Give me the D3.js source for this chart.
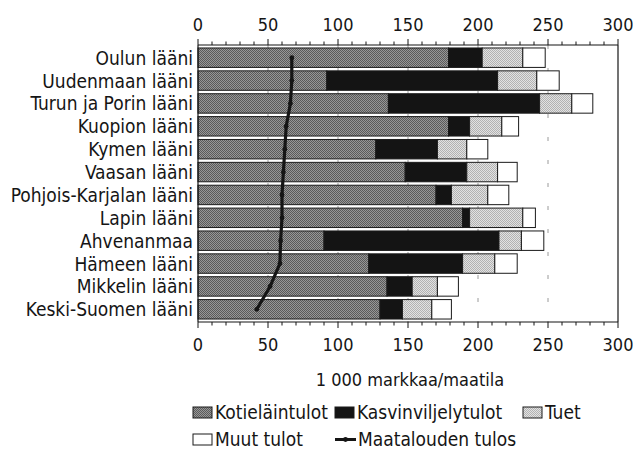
<!DOCTYPE html>
<html>
<head>
<meta charset="utf-8">
<script src="https://cdn.jsdelivr.net/npm/d3@7"></script>
<style>
  html, body { margin: 0; padding: 0; background: #fff; }
  svg { display: block; font-family: "DejaVu Sans Condensed", "Roboto", sans-serif; }
</style>
</head>
<body>
<svg id="chart" width="633" height="453"></svg>
<script>
// Läänit ylhäältä alas
const categories = [
  "Oulun lääni", "Uudenmaan lääni", "Turun ja Porin lääni", "Kuopion lääni",
  "Kymen lääni", "Vaasan lääni", "Pohjois-Karjalan lääni", "Lapin lääni",
  "Ahvenanmaa", "Hämeen lääni", "Mikkelin lääni", "Keski-Suomen lääni"
];
// Tulolajit, 1 000 mk/maatila
const kotielaintulot     = [179, 92, 136, 179, 127, 148, 170, 189, 90, 122, 135, 130];
const kasvinviljelytulot = [24, 122, 108, 15, 44, 44, 11, 5, 125, 67, 18, 16];
const tuet               = [29, 28, 23, 23, 21, 22, 26, 38, 16, 23, 18, 21];
const muutTulot          = [16, 16, 15, 12, 15, 14, 15, 9, 16, 16, 15, 14];
// Maatalouden tulos
const maataloudenTulos   = [67, 67, 66, 63, 62, 61, 60, 60, 59, 58.5, 51.5, 42];

const seriesNames = ["Kotieläintulot", "Kasvinviljelytulot", "Tuet", "Muut tulot"];
const lineName = "Maatalouden tulos";
const xTicks = [0, 50, 100, 150, 200, 250, 300];
const axisTitle = "1 000 markkaa/maatila";

const svg = d3.select("#chart");
const x = d3.scaleLinear().domain([0, 300]).range([198, 618]);
const y = d3.scaleBand().domain(categories).range([45, 322]).paddingInner(0.15).paddingOuter(0.13);
const ink = "#151515";

// Rasterikuviot
const defs = svg.append("defs");
function dotPattern(id, bg, dot, size) {
  const p = defs.append("pattern").attr("id", id).attr("patternUnits", "userSpaceOnUse")
    .attr("width", size).attr("height", size);
  p.append("rect").attr("width", size).attr("height", size).attr("fill", bg);
  p.append("rect").attr("width", size / 2).attr("height", size / 2).attr("fill", dot);
  p.append("rect").attr("x", size / 2).attr("y", size / 2).attr("width", size / 2).attr("height", size / 2).attr("fill", dot);
}
dotPattern("pKoti", "#979797", "#5a5a5a", 2);
dotPattern("pTuet", "#e2e2e2", "#b2b2b2", 2);

const fills = ["url(#pKoti)", "#141414", "url(#pTuet)", "#ffffff"];

// Katkoviivainen ruudukko
svg.append("g").selectAll("line").data(xTicks.filter(d => d > 0 && d < 300)).join("line")
  .attr("x1", d => x(d)).attr("x2", d => x(d)).attr("y1", 45).attr("y2", 322)
  .attr("stroke", "#9a9a9a").attr("stroke-width", 1).attr("stroke-dasharray", "4,19");

// Pinotut palkit
const rows = categories.map((c, i) => ({
  cat: c, vals: [kotielaintulot[i], kasvinviljelytulot[i], tuet[i], muutTulot[i]]
}));
const stack = d3.stack().keys([0, 1, 2, 3]).value((d, k) => d.vals[k]);
const stacked = stack(rows);

svg.append("g").selectAll("g").data(stacked).join("g")
  .attr("fill", (d, i) => fills[i])
  .selectAll("rect").data(d => d).join("rect")
  .attr("x", d => x(d[0]))
  .attr("y", d => y(d.data.cat))
  .attr("width", d => x(d[1]) - x(d[0]))
  .attr("height", y.bandwidth())
  .attr("stroke", "#1a1a1a").attr("stroke-width", 1);

// Kehys ja akselit
const axisG = svg.append("g").attr("stroke", ink).attr("stroke-width", 1.2);
axisG.append("line").attr("x1", x(0)).attr("x2", x(300)).attr("y1", 45).attr("y2", 45);
axisG.append("line").attr("x1", x(0)).attr("x2", x(300)).attr("y1", 322).attr("y2", 322);
axisG.append("line").attr("x1", x(0)).attr("x2", x(0)).attr("y1", 45).attr("y2", 322);
axisG.append("line").attr("x1", x(300)).attr("x2", x(300)).attr("y1", 45).attr("y2", 322);

const minor = d3.range(0, 301, 10);
svg.append("g").selectAll("line").data(minor).join("line")
  .attr("x1", d => x(d)).attr("x2", d => x(d))
  .attr("y1", 45).attr("y2", d => d % 50 === 0 ? 39 : 41.5)
  .attr("stroke", ink).attr("stroke-width", 1);
svg.append("g").selectAll("line").data(minor).join("line")
  .attr("x1", d => x(d)).attr("x2", d => x(d))
  .attr("y1", 322).attr("y2", d => d % 50 === 0 ? 328 : 325.5)
  .attr("stroke", ink).attr("stroke-width", 1);

const tickFont = 18;
svg.append("g").selectAll("text").data(xTicks).join("text")
  .attr("x", d => x(d)).attr("y", 31).attr("text-anchor", "middle")
  .attr("font-size", tickFont).attr("fill", ink).text(d => d);
svg.append("g").selectAll("text").data(xTicks).join("text")
  .attr("x", d => x(d)).attr("y", 351).attr("text-anchor", "middle")
  .attr("font-size", tickFont).attr("fill", ink).text(d => d);

svg.append("text").attr("x", 410).attr("y", 386).attr("text-anchor", "middle")
  .attr("font-size", 18).attr("fill", ink).text(axisTitle);

// Läänien nimet
svg.append("g").selectAll("text").data(categories).join("text")
  .attr("x", 193).attr("y", d => y(d) + y.bandwidth() / 2 + 7)
  .attr("text-anchor", "end").attr("font-size", 19).attr("fill", ink).text(d => d);

// Maatalouden tulos -viiva
const line = d3.line()
  .x(d => x(d.v)).y(d => y(d.c) + y.bandwidth() / 2)
  .curve(d3.curveLinear);
const linePts = categories.map((c, i) => ({ c, v: maataloudenTulos[i] }));
svg.append("path").datum(linePts).attr("d", line)
  .attr("fill", "none").attr("stroke", ink).attr("stroke-width", 3.2)
  .attr("stroke-linejoin", "round").attr("stroke-linecap", "round");
svg.append("g").selectAll("circle").data(linePts).join("circle")
  .attr("cx", d => x(d.v)).attr("cy", d => y(d.c) + y.bandwidth() / 2)
  .attr("r", 2.4).attr("fill", ink);

// Selite
const legendFont = 19;
const rowY = [419, 446];
const legendItems = [
  { name: seriesNames[0], fill: fills[0], sx: 193, row: 0 },
  { name: seriesNames[1], fill: fills[1], sx: 335, row: 0 },
  { name: seriesNames[2], fill: fills[2], sx: 523, row: 0 },
  { name: seriesNames[3], fill: fills[3], sx: 193, row: 1 }
];
const lg = svg.append("g");
legendItems.forEach(it => {
  lg.append("rect").attr("x", it.sx).attr("y", rowY[it.row] - 12).attr("width", 19).attr("height", 11)
    .attr("fill", it.fill).attr("stroke", "#1a1a1a").attr("stroke-width", 1);
  lg.append("text").attr("x", it.sx + 22).attr("y", rowY[it.row]).attr("font-size", legendFont)
    .attr("fill", ink).text(it.name);
});
lg.append("line").attr("x1", 335).attr("x2", 356).attr("y1", rowY[1] - 6.5).attr("y2", rowY[1] - 6.5)
  .attr("stroke", ink).attr("stroke-width", 3);
lg.append("circle").attr("cx", 345.5).attr("cy", rowY[1] - 6.5).attr("r", 2.4).attr("fill", ink);
lg.append("text").attr("x", 358).attr("y", rowY[1]).attr("font-size", legendFont).attr("fill", ink).text(lineName);
</script>
</body>
</html>
